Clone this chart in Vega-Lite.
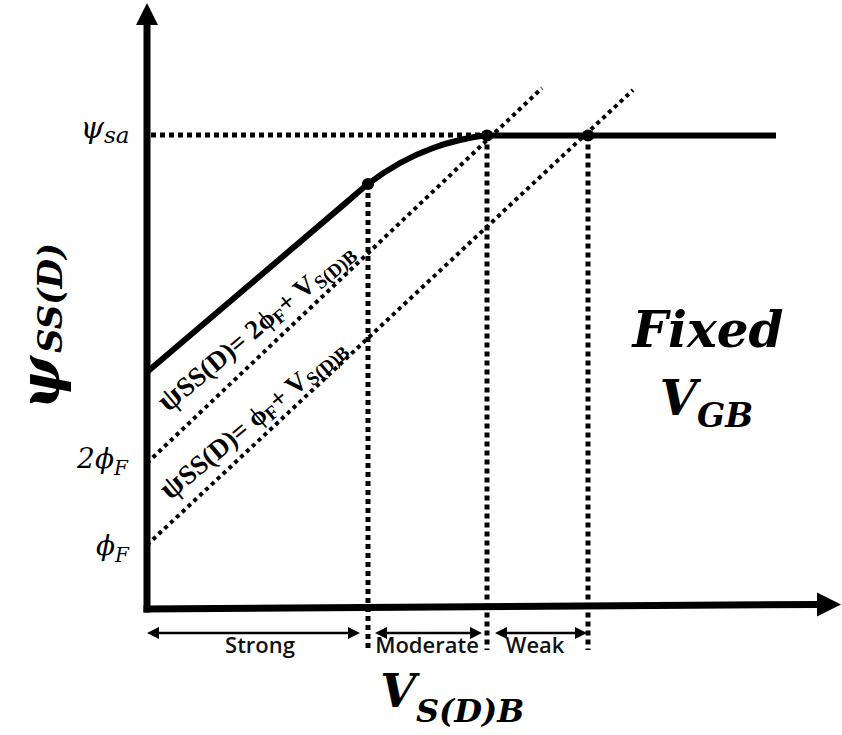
{
  "$schema": "https://vega.github.io/schema/vega-lite/v6.json",
  "width": 842,
  "height": 735,
  "autosize": {"type": "fit", "contains": "padding"},
  "padding": 0,
  "background": "white",
  "config": {"view": {"stroke": null}},
  "datasets": {
    "curve": [
      {"x": 0, "y": 2.37, "o": 1},
      {"x": 1.1, "y": 3.305, "o": 2},
      {"x": 2.0, "y": 4.071, "o": 3},
      {"x": 2.21, "y": 4.25, "o": 4},
      {"x": 2.53, "y": 4.46, "o": 5},
      {"x": 2.86, "y": 4.61, "o": 6},
      {"x": 3.13, "y": 4.69, "o": 7},
      {"x": 3.41, "y": 4.735, "o": 8},
      {"x": 6.29, "y": 4.735, "o": 9}
    ],
    "axes": [
      {"x": 0, "y": -0.035, "x2": 0, "y2": 5.86},
      {"x": -0.035, "y": 0.0, "x2": 6.7, "y2": 0.045}
    ],
    "diag": [
      {"x": 0, "y": 1.46, "x2": 3.95, "y2": 5.21},
      {"x": 0, "y": 0.64, "x2": 4.86, "y2": 5.19}
    ],
    "guides": [
      {"x": 0.04, "y": 4.74, "x2": 3.35, "y2": 4.74},
      {"x": 2.21, "y": 4.25, "x2": 2.21, "y2": -0.41},
      {"x": 3.40, "y": 4.735, "x2": 3.40, "y2": -0.41},
      {"x": 4.41, "y": 4.735, "x2": 4.41, "y2": -0.41}
    ],
    "shafts": [
      {"x": 0.06, "y": -0.24, "x2": 2.07, "y2": -0.24},
      {"x": 2.34, "y": -0.24, "x2": 3.29, "y2": -0.24},
      {"x": 3.54, "y": -0.24, "x2": 4.34, "y2": -0.24}
    ],
    "points": [
      {"x": 0.06, "y": -0.24, "role": "ahL"},
      {"x": 2.07, "y": -0.24, "role": "ahR"},
      {"x": 2.34, "y": -0.24, "role": "ahL"},
      {"x": 3.29, "y": -0.24, "role": "ahR"},
      {"x": 3.54, "y": -0.24, "role": "ahL"},
      {"x": 4.34, "y": -0.24, "role": "ahR"},
      {"x": 0, "y": 5.95, "role": "axUp"},
      {"x": 6.82, "y": 0.045, "role": "axRight"},
      {"x": 2.21, "y": 4.25, "role": "dot"},
      {"x": 3.40, "y": 4.735, "role": "dot"},
      {"x": 4.41, "y": 4.735, "role": "dot"}
    ],
    "ann": [
      {"x": 0.21, "y": 1.96, "text": "ψ", "role": "annPsi"},
      {"x": 0.386, "y": 2.108, "text": "SS(D)= 2ϕ", "role": "annMain"},
      {"x": 1.324, "y": 2.842, "text": "F", "role": "annSub"},
      {"x": 1.39, "y": 2.95, "text": "+ V", "role": "annMain"},
      {"x": 1.737, "y": 3.189, "text": "S(D)B", "role": "annSub"},
      {"x": 0.23, "y": 1.08, "text": "ψ", "role": "annPsi"},
      {"x": 0.406, "y": 1.228, "text": "SS(D)= ϕ", "role": "annMain"},
      {"x": 1.244, "y": 1.878, "text": "F", "role": "annSub"},
      {"x": 1.31, "y": 1.987, "text": "+ V", "role": "annMain"},
      {"x": 1.658, "y": 2.226, "text": "S(D)B", "role": "annSub"}
    ],
    "ytitle": [
      {"x": -1.05, "y": 2.26, "text": "ψ", "role": "ytPsi"},
      {"x": -0.95, "y": 3.11, "text": "SS(D)", "role": "ytSub"}
    ],
    "tickMain": [
      {"x": -0.43, "y": 4.71, "text": "ψ", "role": "tkPsi"},
      {"x": -0.33, "y": 1.41, "text": "2ϕ", "role": "tkMain"},
      {"x": -0.32, "y": 0.54, "text": "ϕ", "role": "tkMain"}
    ],
    "tickSub": [
      {"x": -0.43, "y": 4.66, "text": "sa", "role": "tkSa"},
      {"x": -0.33, "y": 1.34, "text": "F", "role": "tkF"},
      {"x": -0.32, "y": 0.47, "text": "F", "role": "tkF"}
    ],
    "boldMain": [
      {"x": 2.69, "y": -0.98, "text": "V", "role": "xtMain"},
      {"x": 5.50, "y": 1.94, "text": "V", "role": "vgbMain"}
    ],
    "boldSub": [
      {"x": 2.69, "y": -1.13, "text": "S(D)B", "role": "xtSub"},
      {"x": 5.50, "y": 1.82, "text": "GB", "role": "vgbSub"}
    ],
    "fixed": [
      {"x": 5.61, "y": 2.62, "text": "Fixed", "role": "fixed"}
    ],
    "regions": [
      {"x": 1.13, "y": -0.44, "text": "Strong", "role": "region"},
      {"x": 2.80, "y": -0.44, "text": "Moderate", "role": "region"},
      {"x": 3.88, "y": -0.44, "text": "Weak", "role": "region"}
    ]
  },
  "encoding": {
    "x": {"field": "x", "type": "quantitative", "axis": null, "scale": {"domain": [-1.47, 6.95], "nice": false, "zero": false}},
    "y": {"field": "y", "type": "quantitative", "axis": null, "scale": {"domain": [-1.26, 6.09], "nice": false, "zero": false}}
  },
  "layer": [
    {
      "data": {"name": "diag"},
      "mark": {"type": "rule", "color": "black", "strokeWidth": 4, "strokeDash": [4, 4], "strokeCap": "butt"},
      "encoding": {"x2": {"field": "x2"}, "y2": {"field": "y2"}}
    },
    {
      "data": {"name": "guides"},
      "mark": {"type": "rule", "color": "black", "strokeWidth": 5, "strokeDash": [5, 4], "strokeCap": "butt"},
      "encoding": {"x2": {"field": "x2"}, "y2": {"field": "y2"}}
    },
    {
      "data": {"name": "curve"},
      "mark": {"type": "line", "color": "black", "strokeWidth": 6, "interpolate": "monotone", "strokeCap": "butt"},
      "encoding": {"order": {"field": "o", "type": "quantitative"}}
    },
    {
      "data": {"name": "axes"},
      "mark": {"type": "rule", "color": "black", "strokeWidth": 7, "strokeCap": "butt"},
      "encoding": {"x2": {"field": "x2"}, "y2": {"field": "y2"}}
    },
    {
      "data": {"name": "shafts"},
      "mark": {"type": "rule", "color": "black", "strokeWidth": 2.5, "strokeCap": "butt"},
      "encoding": {"x2": {"field": "x2"}, "y2": {"field": "y2"}}
    },
    {
      "data": {"name": "points"},
      "mark": {"type": "point", "filled": true, "color": "black", "opacity": 1, "strokeWidth": 0},
      "encoding": {
        "shape": {"field": "role", "type": "nominal", "legend": null, "scale": {"type": "ordinal", "domain": ["ahL", "ahR", "axUp", "axRight", "dot"], "range": ["M-1,0L1,-1L1,1Z", "M1,0L-1,-1L-1,1Z", "M0,-1L1,1L-1,1Z", "M1,0L-1,-1L-1,1Z", "circle"]}},
        "size": {"field": "role", "type": "nominal", "legend": null, "scale": {"type": "ordinal", "domain": ["ahL", "ahR", "axUp", "axRight", "dot"], "range": [144, 144, 484, 576, 150]}}
      }
    },
    {
      "data": {"name": "ann"},
      "mark": {"type": "text", "font": "Liberation Serif", "fontWeight": "bold", "angle": 320, "align": "left", "baseline": "alphabetic", "color": "black"},
      "encoding": {
        "text": {"field": "text"},
        "size": {"field": "role", "type": "nominal", "legend": null, "scale": {"type": "ordinal", "domain": ["annPsi", "annMain", "annSub"], "range": [32, 27, 19]}}
      }
    },
    {
      "data": {"name": "ytitle"},
      "mark": {"type": "text", "font": "DejaVu Serif", "fontWeight": "bold", "fontStyle": "italic", "angle": 270, "align": "center", "baseline": "middle", "color": "black"},
      "encoding": {
        "text": {"field": "text"},
        "size": {"field": "role", "type": "nominal", "legend": null, "scale": {"type": "ordinal", "domain": ["ytPsi", "ytSub"], "range": [56, 34]}}
      }
    },
    {
      "data": {"name": "tickMain"},
      "mark": {"type": "text", "font": "DejaVu Serif", "fontStyle": "italic", "align": "right", "baseline": "alphabetic", "color": "black"},
      "encoding": {
        "text": {"field": "text"},
        "size": {"field": "role", "type": "nominal", "legend": null, "scale": {"type": "ordinal", "domain": ["tkPsi", "tkMain"], "range": [30, 28]}}
      }
    },
    {
      "data": {"name": "tickSub"},
      "mark": {"type": "text", "font": "DejaVu Serif", "fontStyle": "italic", "align": "left", "baseline": "alphabetic", "color": "black"},
      "encoding": {
        "text": {"field": "text"},
        "size": {"field": "role", "type": "nominal", "legend": null, "scale": {"type": "ordinal", "domain": ["tkSa", "tkF"], "range": [23, 20]}}
      }
    },
    {
      "data": {"name": "boldMain"},
      "mark": {"type": "text", "font": "DejaVu Serif", "fontWeight": "bold", "fontStyle": "italic", "align": "right", "baseline": "alphabetic", "color": "black"},
      "encoding": {
        "text": {"field": "text"},
        "size": {"field": "role", "type": "nominal", "legend": null, "scale": {"type": "ordinal", "domain": ["xtMain", "vgbMain"], "range": [46, 48]}}
      }
    },
    {
      "data": {"name": "boldSub"},
      "mark": {"type": "text", "font": "DejaVu Serif", "fontWeight": "bold", "fontStyle": "italic", "align": "left", "baseline": "alphabetic", "color": "black"},
      "encoding": {
        "text": {"field": "text"},
        "size": {"field": "role", "type": "nominal", "legend": null, "scale": {"type": "ordinal", "domain": ["xtSub", "vgbSub"], "range": [32, 33]}}
      }
    },
    {
      "data": {"name": "fixed"},
      "mark": {"type": "text", "font": "DejaVu Serif", "fontWeight": "bold", "fontStyle": "italic", "align": "center", "baseline": "alphabetic", "color": "black", "fontSize": 50},
      "encoding": {"text": {"field": "text"}}
    },
    {
      "data": {"name": "regions"},
      "mark": {"type": "text", "font": "Open Sans", "fontWeight": 600, "align": "center", "baseline": "alphabetic", "color": "#111111", "fontSize": 22},
      "encoding": {"text": {"field": "text"}}
    }
  ],
  "resolve": {"scale": {"size": "independent", "shape": "independent"}}
}
